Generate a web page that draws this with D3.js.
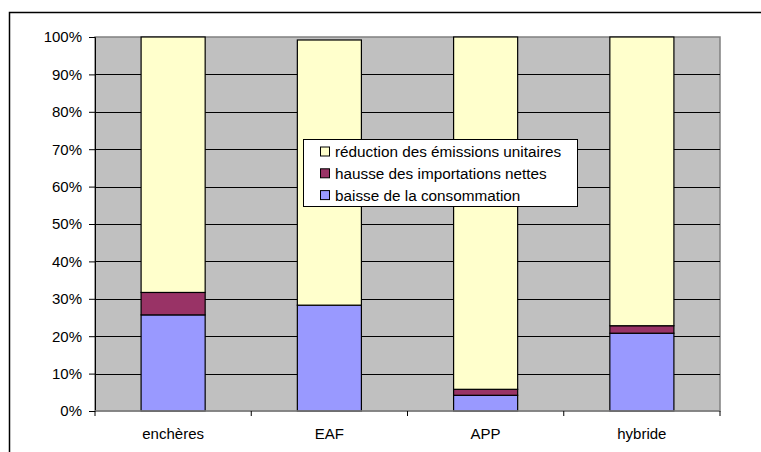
<!DOCTYPE html>
<html><head><meta charset="utf-8">
<script src="https://cdn.jsdelivr.net/npm/d3@7/dist/d3.min.js"></script>
<style>body{margin:0;background:#fff}svg{display:block}text{font-family:"Liberation Sans",Arial,sans-serif}</style>
</head><body><svg id="c" width="761" height="452"></svg>
<script>
const categories = ["enchères", "EAF", "APP", "hybride"];
const seriesNames = ["baisse de la consommation", "hausse des importations nettes", "réduction des émissions unitaires"];
const baisse = [25.7, 28.3, 4.2, 20.8];
const hausse = [6.0, 0.0, 1.6, 2.0];
const reduction = [68.3, 70.9, 94.2, 77.2];
const yTicks = [0, 10, 20, 30, 40, 50, 60, 70, 80, 90, 100];
const colors = ["#9999FF", "#993366", "#FFFFCC"];

const svg = d3.select("#c");
const m = {l: 95, t: 37, r: 720, b: 411};
const x = d3.scaleBand().domain(categories).range([m.l, m.r]).paddingInner(0.59).paddingOuter(0.295);
const y = d3.scaleLinear().domain([0, 100]).range([m.b, m.t]);

// outer frame
svg.append("rect").attr("x", 9.5).attr("y", 12.5).attr("width", 800).attr("height", 500)
  .attr("fill", "#fff").attr("stroke", "#000").attr("stroke-width", 1.5);

// plot background
svg.append("rect").attr("x", m.l).attr("y", m.t).attr("width", m.r - m.l).attr("height", m.b - m.t)
  .attr("fill", "#C0C0C0").attr("stroke", "#808080").attr("stroke-width", 1.5);

// gridlines
svg.append("g").selectAll("line").data(yTicks.slice(1, -1)).join("line")
  .attr("x1", m.l).attr("x2", m.r).attr("y1", d => Math.round(y(d)) + 0.5).attr("y2", d => Math.round(y(d)) + 0.5)
  .attr("stroke", "#000").attr("stroke-width", 1);

// stacked bars
const rows = categories.map((c, i) => ({cat: c, s0: baisse[i], s1: hausse[i], s2: reduction[i]}));
const stack = d3.stack().keys(["s0", "s1", "s2"])(rows);
svg.append("g").selectAll("g").data(stack).join("g")
  .attr("fill", (d, i) => colors[i])
  .selectAll("rect").data(d => d.filter(v => v[1] - v[0] > 0)).join("rect")
  .attr("x", d => x(d.data.cat)).attr("width", x.bandwidth())
  .attr("y", d => y(d[1])).attr("height", d => y(d[0]) - y(d[1]))
  .attr("stroke", "#000").attr("stroke-width", 1.2);

// y axis
const yAxis = d3.axisLeft(y).tickValues(yTicks).tickFormat(d => d + "%").tickSize(6).tickPadding(7);
const ga = svg.append("g").attr("transform", `translate(${m.l},0)`).call(yAxis);
ga.select(".domain").attr("stroke", "#000");
ga.selectAll("line").attr("stroke", "#000");
ga.selectAll("text").attr("font-size", 15).attr("fill", "#000");

// x axis
const xb = d3.scaleLinear().domain([0, 4]).range([m.l, m.r]);
const gx = svg.append("g");
gx.append("line").attr("x1", m.l).attr("x2", m.r).attr("y1", m.b).attr("y2", m.b).attr("stroke", "#808080").attr("stroke-width", 1.5);
gx.selectAll("line.t").data([0, 1, 2, 3, 4]).join("line").attr("class", "t")
  .attr("x1", d => xb(d)).attr("x2", d => xb(d)).attr("y1", m.b).attr("y2", m.b + 5).attr("stroke", "#000");
gx.selectAll("text").data(categories).join("text")
  .attr("x", d => x(d) + x.bandwidth() / 2).attr("y", 439)
  .attr("text-anchor", "middle").attr("font-size", 15).attr("fill", "#000").text(d => d);

// legend
const lg = svg.append("g");
lg.append("rect").attr("x", 303.5).attr("y", 139.5).attr("width", 274).attr("height", 67)
  .attr("fill", "#fff").attr("stroke", "#000").attr("stroke-width", 1);
const legendItems = [2, 1, 0];
legendItems.forEach((si, k) => {
  const cy = 151.5 + k * 21.8;
  lg.append("rect").attr("x", 320.5).attr("y", cy - 4.5).attr("width", 9).attr("height", 9)
    .attr("fill", colors[si]).attr("stroke", "#000").attr("stroke-width", 1);
  lg.append("text").attr("x", 335).attr("y", cy + 5.5).attr("font-size", 15.3).attr("fill", "#000").text(seriesNames[si]);
});
</script></body></html>
